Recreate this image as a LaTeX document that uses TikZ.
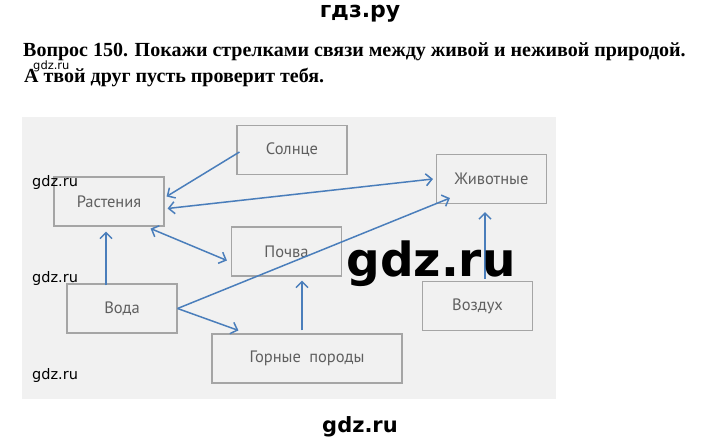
\documentclass[tikz,border=0pt]{standalone}
\usepackage{fontspec}
\setmainfont{Liberation Serif}
\setsansfont{PT Sans}
\newfontfamily\wmfont{DejaVu Sans}
\usetikzlibrary{arrows.meta}
\definecolor{arrowblue}{RGB}{74,126,187}
\definecolor{panelgray}{RGB}{241,241,241}
\definecolor{boxgray}{RGB}{165,165,165}
\definecolor{labelgray}{RGB}{95,95,95}

\tikzset{
	box/.style={draw=boxgray, line width=1.1pt, minimum width=110pt, minimum height=49pt,
		font=\sffamily\fontsize{16.5}{18}\selectfont, text=labelgray},
	link/.style={arrowblue, line width=1.5pt, -{Straight Barb[length=6pt,width=12pt]}},
	twoway/.style={link, {Straight Barb[length=6pt,width=12pt]}-{Straight Barb[length=6pt,width=12pt]}},
	wmsmall/.style={anchor=base west, inner sep=0pt, font=\wmfont\fontsize{14.5}{16}\selectfont},
	wmbold/.style={anchor=base, inner sep=0pt, font=\wmfont\bfseries}
}

\begin{document}
\begin{tikzpicture}[x=1pt, y=-1pt]
	\useasboundingbox (0,0) rectangle (720,443);
	\fill[panelgray] (22,117) rectangle (556,399);

	% header and question
	\node (hd) [wmbold, font=\wmfont\bfseries\fontsize{22}{24}\selectfont] at (360,18) {гдз.ру};
	\node (q1) [anchor=base west, inner sep=0pt, font=\bfseries\fontsize{20}{22}\selectfont] at (23,57)
		{Вопрос 150. Покажи стрелками связи между живой и неживой природой.};
	\node (q2) [anchor=base west, inner sep=0pt, font=\bfseries\fontsize{20}{22}\selectfont] at (24,83)
		{А твой друг пусть проверит тебя.};

	% boxes
	\node (s) [box] at (292,150) {Солнце};
	\node (r) [box] at (109,201.5) {Растения};
	\node (p) [box] at (286.5,251.5) {Почва};
	\node (z) [box] at (491.5,179) {Животные};
	\node (v) [box] at (122,308.5) {Вода};
	\node (g) [box, minimum width=190pt] at (307,358.5) {Горные\enspace породы};
	\node (a) [box] at (477.5,306) {Воздух};

	% arrows
	\draw[link] ([xshift=3pt,yshift=-2pt]s.west) -- ([xshift=2pt,yshift=5pt]r.east);
	\draw[twoway] ([xshift=3pt,yshift=-7pt]r.east) -- ([xshift=-3pt]z.west);
	\draw[twoway] ([xshift=-14pt,yshift=-2pt]r.south east) -- ([xshift=-4pt,yshift=-9pt]p.west);
	\draw[link] ([xshift=-16pt,yshift=-2pt]v.north) -- ([xshift=-3pt,yshift=-5pt]r.south);
	\draw[link] (v.east) -- ([xshift=14pt,yshift=6pt]z.south west);
	\draw[link] (v.east) -- ([xshift=27pt,yshift=3pt]g.north west);
	\draw[link] ([xshift=-5pt,yshift=3pt]g.north) -- ([xshift=15.5pt,yshift=-4pt]p.south);
	\draw[link] ([xshift=7.5pt,yshift=2pt]a.north) -- ([xshift=-6.5pt,yshift=-8pt]z.south);

	% watermarks
	\node (w1) [wmsmall, font=\wmfont\fontsize{11.5}{13}\selectfont] at (33,70) {gdz.ru};
	\node (w2) [wmsmall] at (32,187) {gdz.ru};
	\node (w3) [wmsmall] at (32,283) {gdz.ru};
	\node (w4) [wmsmall] at (32,380) {gdz.ru};
	\node (w5) [wmbold, font=\wmfont\bfseries\fontsize{47}{50}\selectfont] at (431,277) {gdz.ru};
	\node (w6) [wmbold, font=\wmfont\bfseries\fontsize{21}{24}\selectfont] at (360,432) {gdz.ru};
\end{tikzpicture}
\end{document}
